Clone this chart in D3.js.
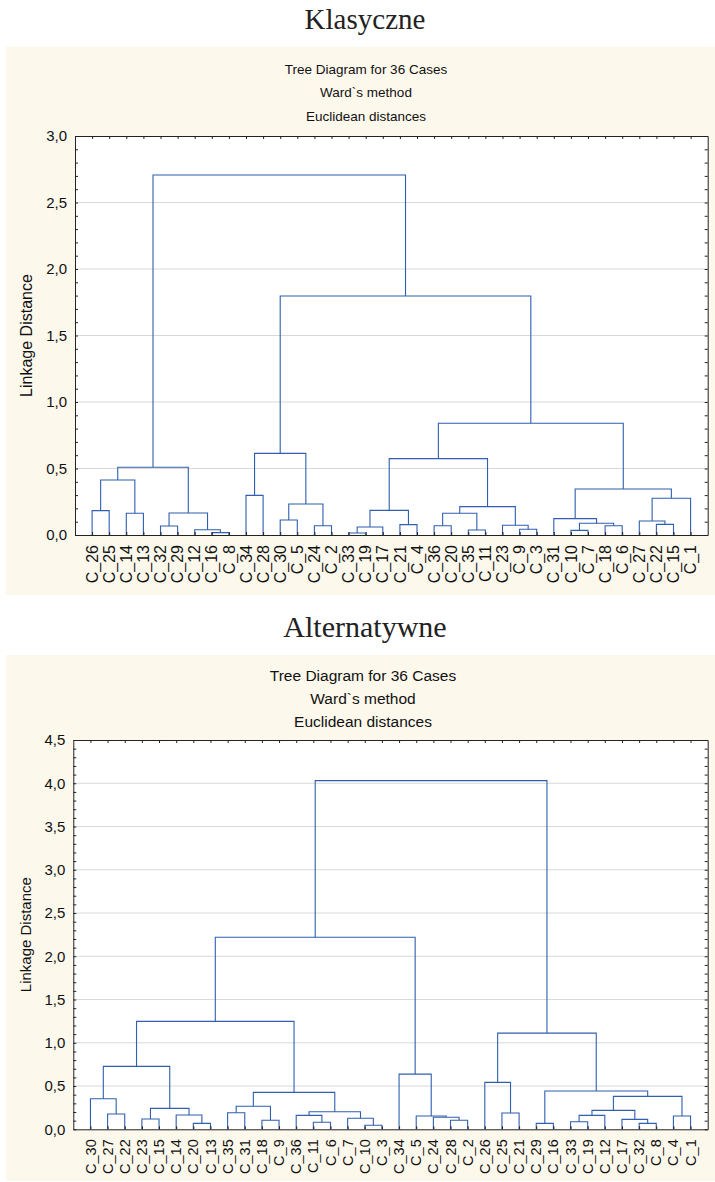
<!DOCTYPE html>
<html>
<head>
<meta charset="utf-8">
<script src="https://cdn.jsdelivr.net/npm/d3@7"></script>
<style>
  body { margin: 0; background: #fff; }
  svg { display: block; }
</style>
</head>
<body>
<script>
// leaf order under each tree (left to right)
const classicLeaves = ['C_26', 'C_25', 'C_14', 'C_13', 'C_32', 'C_29', 'C_12', 'C_16', 'C_8',
  'C_34', 'C_28', 'C_30', 'C_5', 'C_24', 'C_2', 'C_33', 'C_19', 'C_17', 'C_21', 'C_4',
  'C_36', 'C_20', 'C_35', 'C_11', 'C_23', 'C_9', 'C_3', 'C_31', 'C_10', 'C_7', 'C_18', 'C_6',
  'C_27', 'C_22', 'C_15', 'C_1'];

// merges: [left, right, linkage distance], "m4" = result of the 5th merge
const classicMerges = [
  ['C_26', 'C_25', 0.183], ['C_14', 'C_13', 0.163], ['m0', 'm1', 0.413],
  ['C_32', 'C_29', 0.068], ['C_16', 'C_8', 0.018], ['C_12', 'm4', 0.040],
  ['m3', 'm5', 0.165], ['m2', 'm6', 0.509], ['C_34', 'C_28', 0.298],
  ['C_30', 'C_5', 0.113], ['C_24', 'C_2', 0.070], ['m9', 'm10', 0.233],
  ['m8', 'm11', 0.614], ['C_33', 'C_19', 0.015], ['m13', 'C_17', 0.060],
  ['C_21', 'C_4', 0.078], ['m14', 'm15', 0.185], ['C_36', 'C_20', 0.070],
  ['C_35', 'C_11', 0.038], ['m17', 'm18', 0.163], ['C_9', 'C_3', 0.043],
  ['C_23', 'm20', 0.073], ['m19', 'm21', 0.213], ['m16', 'm22', 0.574],
  ['C_10', 'C_7', 0.035], ['C_18', 'C_6', 0.070], ['m24', 'm25', 0.088],
  ['C_31', 'm26', 0.123], ['C_22', 'C_15', 0.080], ['C_27', 'm28', 0.105],
  ['m29', 'C_1', 0.276], ['m27', 'm30', 0.346], ['m23', 'm31', 0.840],
  ['m12', 'm32', 1.797], ['m7', 'm33', 2.707]
];

const altLeaves = ['C_30', 'C_27', 'C_22', 'C_23', 'C_15', 'C_14', 'C_20', 'C_13', 'C_35',
  'C_31', 'C_18', 'C_9', 'C_36', 'C_11', 'C_6', 'C_7', 'C_10', 'C_3', 'C_34', 'C_5', 'C_24',
  'C_28', 'C_2', 'C_26', 'C_25', 'C_21', 'C_29', 'C_16', 'C_33', 'C_19', 'C_12', 'C_17',
  'C_32', 'C_8', 'C_4', 'C_1'];

const altMerges = [
  ['C_27', 'C_22', 0.177], ['C_30', 'm0', 0.353], ['C_23', 'C_15', 0.119],
  ['C_20', 'C_13', 0.069], ['C_14', 'm3', 0.165], ['m2', 'm4', 0.242],
  ['m1', 'm5', 0.727], ['C_35', 'C_31', 0.192], ['C_18', 'C_9', 0.104],
  ['m7', 'm8', 0.266], ['C_11', 'C_6', 0.081], ['C_36', 'm10', 0.161],
  ['C_10', 'C_3', 0.046], ['C_7', 'm12', 0.127], ['m11', 'm13', 0.203],
  ['m9', 'm14', 0.427], ['m6', 'm15', 1.247], ['C_28', 'C_2', 0.104],
  ['C_24', 'm17', 0.139], ['C_5', 'm18', 0.154], ['C_34', 'm19', 0.638],
  ['m16', 'm20', 2.220], ['C_25', 'C_21', 0.188], ['C_26', 'm22', 0.542],
  ['C_29', 'C_16', 0.069], ['C_33', 'C_19', 0.088], ['m25', 'C_12', 0.161],
  ['C_32', 'C_8', 0.069], ['C_17', 'm27', 0.115], ['m26', 'm28', 0.219],
  ['C_4', 'C_1', 0.154], ['m29', 'm30', 0.381], ['m24', 'm31', 0.442],
  ['m23', 'm32', 1.112], ['m21', 'm33', 4.030]
];

const subtitles = ['Tree Diagram for 36 Cases', 'Ward`s method', 'Euclidean distances'];
const yAxisTitle = 'Linkage Distance';

const SANS = '"Liberation Sans", Arial, sans-serif';
const SERIF = '"Liberation Serif", "Times New Roman", serif';
const LINE = '#2f5fae';

const comma = d3.formatLocale({ decimal: ',', thousands: ' ', grouping: [3], currency: ['', ''] }).format('.1f');

const svg = d3.select('body').append('svg')
  .attr('width', 715)
  .attr('height', 1182);

function buildTree(merges) {
  const nodes = merges.map((m, i) => ({ name: 'm' + i, dist: m[2] }));
  const get = id => id.startsWith('m') ? nodes[+id.slice(1)] : { name: id, dist: 0 };
  merges.forEach((m, i) => { nodes[i].children = [get(m[0]), get(m[1])]; });
  return d3.hierarchy(nodes[nodes.length - 1]);
}

function drawChart(cfg) {
  const p = cfg.plot;
  const g = svg.append('g');

  g.append('text')
    .attr('x', cfg.titleX)
    .attr('y', cfg.titleY)
    .attr('text-anchor', 'middle')
    .attr('font-family', SERIF)
    .attr('font-size', cfg.titleSize)
    .attr('fill', '#222')
    .text(cfg.title);

  g.append('rect')
    .attr('x', cfg.panel.x).attr('y', cfg.panel.y)
    .attr('width', cfg.panel.w).attr('height', cfg.panel.h)
    .attr('fill', '#fdf8ec');

  g.selectAll('.sub')
    .data(subtitles)
    .join('text')
    .attr('x', cfg.subX)
    .attr('y', (d, i) => cfg.subY[i])
    .attr('text-anchor', 'middle')
    .attr('font-family', SANS)
    .attr('font-size', cfg.subSize)
    .attr('fill', '#111')
    .text(d => d);

  const x = d3.scalePoint().domain(cfg.leaves).range([p.x, p.x + p.w]).padding(1);
  const y = d3.scaleLinear().domain([0, cfg.yMax]).range([p.y + p.h, p.y]);

  const minor = d3.range(0, Math.round(cfg.yMax * 10) + 1).map(i => i / 10);
  const major = d3.range(0, Math.round(cfg.yMax * 2) + 1).map(i => i / 2);

  g.append('rect')
    .attr('x', p.x).attr('y', p.y)
    .attr('width', p.w).attr('height', p.h)
    .attr('fill', '#fff');

  // gridlines
  g.append('g')
    .selectAll('line')
    .data(major.slice(1, -1))
    .join('line')
    .attr('x1', p.x).attr('x2', p.x + p.w)
    .attr('y1', d => y(d)).attr('y2', d => y(d))
    .attr('stroke', '#d8d8d8')
    .attr('stroke-width', 1);

  // tree
  const root = buildTree(cfg.merges);
  root.eachAfter(d => {
    d.x = d.children ? d3.mean(d.children, c => c.x) : x(d.data.name);
  });

  g.append('g')
    .attr('fill', 'none')
    .attr('stroke', LINE)
    .attr('stroke-width', 1.1)
    .selectAll('path')
    .data(root.descendants().filter(d => d.children))
    .join('path')
    .attr('d', d => {
      const [a, b] = d.children;
      return `M${a.x},${y(a.data.dist)}V${y(d.data.dist)}H${b.x}V${y(b.data.dist)}`;
    });

  // axes, ticks pointing inward
  const isMajor = v => Math.abs(v * 2 - Math.round(v * 2)) < 1e-6;
  const left = g.append('g')
    .attr('transform', `translate(${p.x},0)`)
    .call(d3.axisLeft(y).tickValues(minor).tickSize(-3).tickSizeOuter(0).tickPadding(8)
      .tickFormat(v => isMajor(v) ? comma(v) : ''));
  left.selectAll('text').attr('font-family', SANS).attr('font-size', cfg.tickSize).attr('fill', '#111');

  g.append('g')
    .attr('transform', `translate(${p.x + p.w},0)`)
    .call(d3.axisRight(y).tickValues(minor).tickSize(-3).tickSizeOuter(0).tickFormat(''));

  g.append('g')
    .attr('transform', `translate(0,${p.y})`)
    .call(d3.axisTop(x).tickSize(-3).tickSizeOuter(0).tickFormat(''));

  g.append('g')
    .attr('transform', `translate(0,${p.y + p.h})`)
    .call(d3.axisBottom(x).tickSize(-3).tickSizeOuter(0).tickFormat(''));

  g.selectAll('.domain, .tick line').attr('stroke', '#222');

  // leaf labels
  g.append('g')
    .selectAll('text')
    .data(cfg.leaves)
    .join('text')
    .attr('transform', d => `translate(${x(d)},${p.y + p.h + 10}) rotate(-90)`)
    .attr('text-anchor', 'end')
    .attr('dy', '0.35em')
    .attr('font-family', SANS)
    .attr('font-size', cfg.leafSize)
    .attr('fill', '#111')
    .text(d => d);

  g.append('text')
    .attr('transform', `translate(${cfg.yTitleX},${p.y + p.h / 2}) rotate(-90)`)
    .attr('text-anchor', 'middle')
    .attr('dy', '0.35em')
    .attr('font-family', SANS)
    .attr('font-size', cfg.yTitleSize)
    .attr('fill', '#111')
    .text(yAxisTitle);
}

drawChart({
  title: 'Klasyczne', titleX: 365, titleY: 29.3, titleSize: 29,
  panel: { x: 6, y: 46.7, w: 709, h: 548.3 },
  subX: 366, subY: [74, 97.3, 120.7], subSize: 13.5,
  plot: { x: 75, y: 136, w: 632.7, h: 399 },
  yMax: 3.0, leaves: classicLeaves, merges: classicMerges,
  tickSize: 15, leafSize: 16, yTitleX: 26, yTitleSize: 16
});

drawChart({
  title: 'Alternatywne', titleX: 365, titleY: 636.7, titleSize: 30,
  panel: { x: 6, y: 655, w: 709, h: 526 },
  subX: 363, subY: [681, 704.3, 726.7], subSize: 15.5,
  plot: { x: 73.3, y: 740, w: 634.4, h: 389.3 },
  yMax: 4.5, leaves: altLeaves, merges: altMerges,
  tickSize: 15, leafSize: 14.5, yTitleX: 26, yTitleSize: 15
});
</script>
</body>
</html>
